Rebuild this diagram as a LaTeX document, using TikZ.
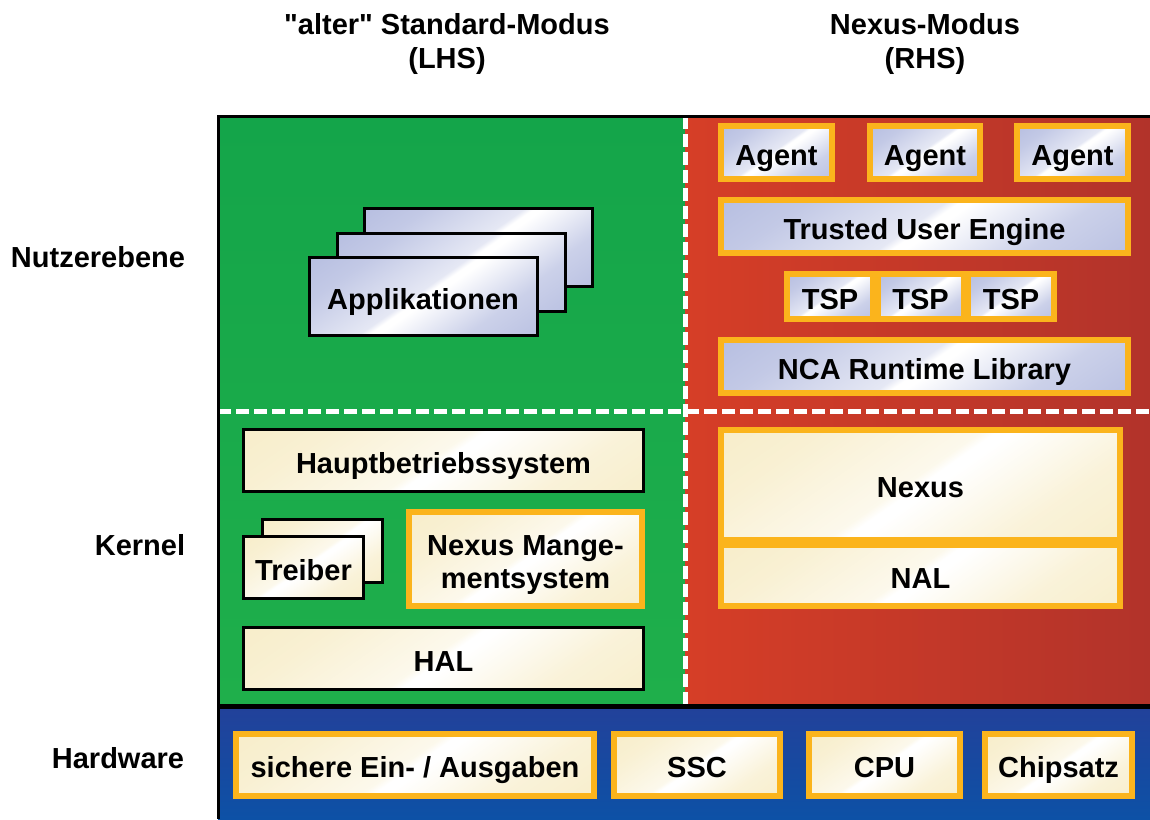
\documentclass[tikz,border=0pt]{standalone}
\usepackage{fontspec}
\setmainfont{Liberation Sans}[Ligatures=TeXOff]

\definecolor{gruen}{HTML}{1FAF4B}
\definecolor{gruendunkel}{HTML}{14A54A}
\definecolor{rothell}{HTML}{D63E27}
\definecolor{rotdunkel}{HTML}{B2332A}
\definecolor{blauoben}{HTML}{22419A}
\definecolor{blauunten}{HTML}{0D51A6}
\definecolor{orangerand}{HTML}{FBB41C}
\definecolor{lav}{HTML}{A9B2DB}
\definecolor{creme}{HTML}{F6EAC0}

\pgfdeclareverticalshading{glanzblau}{100bp}{color(0bp)=(lav); color(30bp)=(lav!60!white); color(48bp)=(white); color(50bp)=(white); color(52bp)=(lav!30!white); color(72bp)=(lav!70!white); color(100bp)=(lav)}
\pgfdeclareverticalshading{glanzcreme}{100bp}{color(0bp)=(creme); color(30bp)=(creme!60!white); color(48bp)=(white); color(50bp)=(white); color(52bp)=(creme!30!white); color(72bp)=(creme!70!white); color(100bp)=(creme)}

\begin{document}
\begin{tikzpicture}[x=0.5pt, y=-0.5pt,
    every node/.style={font=\fontsize{14.5}{16.5}\selectfont\bfseries, inner sep=0pt},
    kasten/.style={text height=12.8pt, text depth=0pt, shade, shading angle=35},
    blauschwarz/.style={kasten, draw=black, line width=1.5pt, shading=glanzblau},
    blauorange/.style={kasten, draw=orangerand, line width=3pt, shading=glanzblau},
    cremeschwarz/.style={kasten, draw=black, line width=1.5pt, shading=glanzcreme},
    cremeorange/.style={kasten, draw=orangerand, line width=3pt, shading=glanzcreme},
    trenner/.style={white, line width=2.5pt, dash pattern=on 6.5pt off 2.5pt}]
  \useasboundingbox (0,0) rectangle (1150,819);

  % Ueberschriften
  \node[align=center, font=\fontsize{14.5}{17}\selectfont\bfseries] (hlhs) at (447,44) {"alter" Standard-Modus\\(LHS)};
  \node[align=center, font=\fontsize{14.5}{17}\selectfont\bfseries] (hrhs) at (925,44) {Nexus-Modus\\(RHS)};
  \node (lnutzer) at (98,257) {Nutzerebene};
  \node (lkernel) at (140,545) {Kernel};
  \node (lhw) at (118,758) {Hardware};

  % Flaechen
  \shade[top color=gruendunkel, bottom color=gruen] (218,116) rectangle (685,707);
  \shade[left color=rothell, right color=rotdunkel] (685,116) rectangle (1150,707);
  \shade[top color=blauoben, bottom color=blauunten] (218,707) rectangle (1150,819);
  \draw[trenner] (685,116) -- (685,707);
  \draw[trenner] (218,411) -- (1150,411);
  \draw[line width=1.5pt] (1150,116) -- (218,116) -- (218,819);
  \draw[line width=2.5pt] (218,706) -- (1150,706);

  % Nutzerebene links
  \node[blauschwarz, minimum width=114pt, minimum height=39pt] (apps3) at (478.5,247.5) {};
  \node[blauschwarz, minimum width=114pt, minimum height=39pt] (apps2) at (451,272.5) {};
  \node[blauschwarz, minimum width=114pt, minimum height=39pt] (apps1) at (423,296.5) {Applikationen};

  % Nutzerebene rechts
  \node[blauorange, minimum width=55.5pt, minimum height=26.5pt] (agent1) at (776.5,152.5) {Agent};
  \node[blauorange, minimum width=55pt, minimum height=26.5pt] (agent2) at (925,152.5) {Agent};
  \node[blauorange, minimum width=55.5pt, minimum height=26.5pt] (agent3) at (1072.5,152.5) {Agent};
  \node[blauorange, minimum width=203.5pt, minimum height=26.5pt] (tue) at (924.5,226.5) {Trusted User Engine};
  \foreach \i/\x in {1/830, 2/920.5, 3/1011}
    \node[blauorange, minimum width=43pt, minimum height=22.5pt] (tsp\i) at (\x,296.5) {TSP};
  \node[blauorange, minimum width=203.5pt, minimum height=26.5pt] (nca) at (924.5,366.5) {NCA Runtime Library};

  % Kernel links
  \node[cremeschwarz, minimum width=200pt, minimum height=31pt] (haupt) at (443.5,460.5) {Hauptbetriebssystem};
  \node[cremeschwarz, minimum width=60pt, minimum height=31.5pt] (treiber2) at (322.5,551) {};
  \node[cremeschwarz, minimum width=60pt, minimum height=31pt] (treiber1) at (303.5,567.5) {Treiber};
  \node[cremeorange, text height=29.4pt, minimum width=116.5pt, minimum height=47pt, align=center] (nms) at (525.5,559) {Nexus Mange-\\mentsystem};
  \node[cremeschwarz, minimum width=200pt, minimum height=31pt] (hal) at (443.5,658.5) {HAL};

  % Kernel rechts
  \node[cremeorange, minimum width=199.5pt, minimum height=55pt] (nexus) at (920.5,485) {Nexus};
  \node[cremeorange, minimum width=199.5pt, minimum height=30.5pt] (nal) at (920.5,575.5) {NAL};

  % Hardware
  \node[cremeorange, minimum width=179pt, minimum height=31pt] (sio) at (415,765) {sichere Ein- / Ausgaben};
  \node[cremeorange, minimum width=83pt, minimum height=31pt] (ssc) at (697,765) {SSC};
  \node[cremeorange, minimum width=75.5pt, minimum height=31pt] (cpu) at (884.5,765) {CPU};
  \node[cremeorange, minimum width=73.5pt, minimum height=31pt] (chip) at (1058.5,765) {Chipsatz};
\end{tikzpicture}
\end{document}
